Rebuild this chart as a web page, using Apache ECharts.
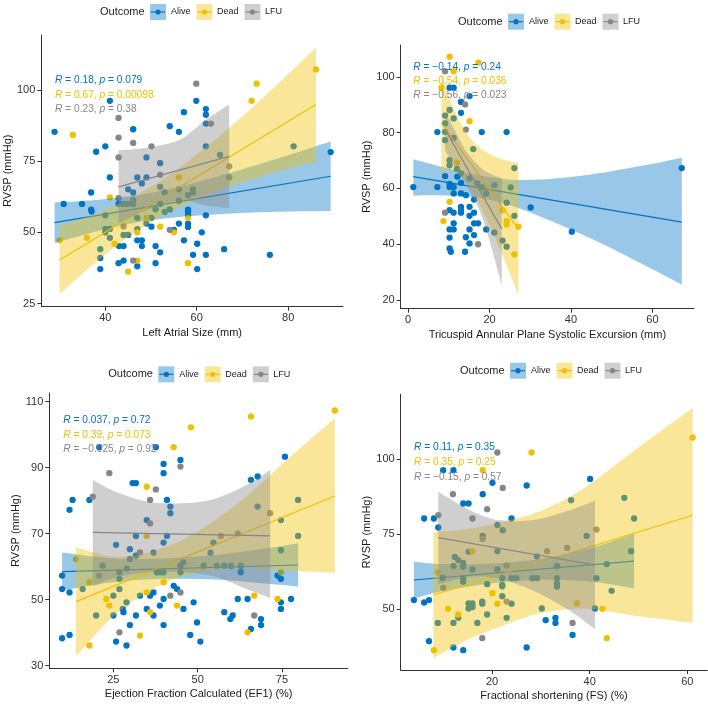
<!DOCTYPE html>
<html><head><meta charset="utf-8">
<script src="https://cdn.jsdelivr.net/npm/echarts@6/dist/echarts.min.js"></script>
<style>html,body{margin:0;padding:0;background:#fff}#c{width:708px;height:706px}</style>
</head><body><div id="c"></div>
<script>
const FONT = "'Liberation Sans', Arial, sans-serif";
const groups = ['Alive','Dead','LFU'];
const COLORS = {Alive:'#0073C2', Dead:'#EFC000', LFU:'#868686'};

// ---------- Panel 1: Left Atrial Size ----------
const p1Alive = [[28.9,85.3],[30.9,60],[34.9,60],[36.9,64],[36.9,58],[37,57.3],[38,78.3],[40,80.2],[41,96.2],[41,69.3],[38.9,37.1],[42.9,39.2],[44,40.1],[46.1,86.2],[47,69.3],[49,69.3],[49,76.3],[48,67.2],[45,65.1],[46.1,64],[52,74.3],[54.1,87.3],[56.1,85.3],[57.2,92.2],[59.9,96.2],[62,93.3],[62,91.3],[62,88.2],[89.3,78.2],[76,42.1],[43,45.2],[44,45.2],[47,47.2],[48,47.2],[48,45.2],[47,38.1],[51,45.2],[52,43],[51,39.2],[50.1,52],[55,50.9],[56.1,53.1],[57.2,47.2],[58.1,58],[58.1,57.2],[58.1,56],[58.1,53.1],[58.1,51.9],[59.2,42.1],[60.1,46],[60.1,37.1],[61.1,50],[62,42.1],[62,56],[66,44.1],[40,56],[40,51.2],[40,50],[38.9,44.1],[38.9,41],[41,51.2],[41,48.1],[42.9,60],[44,60],[45,60],[46.1,60],[46.1,61.3],[47,55.1],[47,51.1],[45,49.1],[44,49.1],[49,53.1],[50.1,55.1],[51,58.1],[52,66],[53,64],[56.1,65.1],[56.1,61.1],[53,57.2],[54.1,58.1],[58.1,63.1],[59.2,65.1],[59.2,64],[62,80.2],[65.1,77.2],[81.2,80.2],[52,60]];
const p1Dead = [[32.9,84.2],[41,62.3],[36,48.1],[30,47.2],[42,46],[45,36.2],[47,40.1],[47,50],[49,55.1],[52,52],[55,50],[58.1,55.1],[58.1,39.2],[56.1,69.3],[72,96.2],[73.1,102.2],[86.1,107.2]];
const p1LFU = [[59.9,102.2],[42.9,90.2],[42.9,83.3],[46.1,81.4],[50.1,80.2],[42.9,76.3],[63.1,88.2],[42.9,62],[44,52.1],[46.1,40.1],[54.1,50.9],[67.1,73.2],[67.1,69.3],[52,70.2]];
const p1AliveLine = [[28.9,53.4],[89.3,69.7]];
const p1DeadLine = [[30,40.3],[86.1,94.9]];
const p1LFULine = [[42.9,66.0],[67.1,76.7]];
const p1AliveBand = [[28.9,46.3,60.5],[35,49.0,61.0],[40,51.1,61.7],[48,53.8,63.3],[55,55.2,65.6],[62,56.1,68.5],[70,56.8,72.2],[80,57.3,77.1],[89.3,57.5,81.9]];
const p1DeadBand = [[30,28.3,52.3],[38,39.6,56.6],[46,49.4,62.4],[54,57.1,70.1],[62,62.9,79.9],[70,67.7,90.7],[78,71.5,102.5],[86.1,74.9,114.9]];
const p1LFUBand = [[42.9,53.2,78.8],[44.6,54.6,79.0],[49.7,58.1,79.9],[56.3,61.3,82.5],[62.1,59.4,89.6],[67.1,58.5,94.9]];

// ---------- Panel 2: TAPSE ----------
const p2Alive = [[1.3,60.5],[7.2,60.5],[7.2,80.2],[9.1,64.4],[10.2,96.1],[11.2,96.1],[10.2,61.6],[10.2,60.5],[11.2,60.5],[11.2,58.2],[10.2,52.2],[11.2,51.3],[10.2,45.3],[11.2,45.3],[11.2,47.5],[10.2,42.4],[10.2,38.5],[10.5,37.3],[13,91],[15.1,93.1],[13,87.1],[13,58.2],[13,53.4],[13,52.2],[13,51.3],[14.2,57.6],[14.2,42.5],[14,37.3],[15.1,53.4],[15.1,50.2],[15.1,45.3],[15.1,40.3],[16.2,51.3],[16.2,47.5],[17.2,47.5],[16.2,43.3],[18.1,80.2],[24.2,80.2],[19.2,45.3],[30.1,53.2],[40.2,44.5],[67.2,67.3],[9.1,86.1],[9.1,83.3],[9.1,80.3],[9.1,77.3],[10.2,88.1],[11.2,85.1],[10.2,70.1],[10.2,68.3],[11.2,78.1],[12,67],[13,65.4],[13,62],[12.1,64.2],[15.1,63.6],[16,74.1],[17,61.8],[18.1,60.4],[19.2,58.2],[21.2,61.2],[21.2,44.2],[23.2,41.3],[24.2,54.9],[24.2,39.1],[25.2,60.4],[26.1,67.3],[26.1,50.2],[16.2,56]];
const p2Dead = [[10.2,107.2],[11.2,102],[17.3,105.1],[8.2,96.1],[15.1,84.1],[10.2,55.2],[8.7,48.3],[24.2,48.3],[24.2,47.1],[27.1,46.3],[26.1,36.4],[23.2,52.2],[12,69.3]];
const p2LFU = [[9.1,102],[14,90.1],[9.1,51.3],[17.2,40],[14.2,81.1]];
const p2AliveLine = [[1.3,64.2],[67.2,47.9]];
const p2DeadLine = [[8.2,83.3],[27.1,45.5]];
const p2LFULine = [[9.1,81.1],[23,45.5]];
const p2AliveBand = [[1.3,57.5,70.5],[9,57.5,67.5],[18,56.5,64.5],[27,53,63],[38,46.5,63.8],[50,38.5,66.2],[60,31,68.8],[67.2,25.5,71]];
const p2DeadBand = [[8.2,64.8,101.8],[10.3,66.6,91.6],[14.4,62.1,79.7],[18.5,51.5,73.7],[22.6,38.1,70.7],[27.1,21.8,69]];
const p2LFUBand = [[9.1,73.7,87.5],[11.9,66.5,79.7],[14.4,61,73.1],[18.5,48.5,66.6],[23,25.4,63.6]];

// ---------- Panel 3: EF1 ----------
const p3Alive = [[9.8,57.3],[9.8,53.2],[9.8,38.3],[12,77.2],[12.9,80.2],[12,52.2],[12,39.3],[17.9,80.2],[30.7,85.3],[31.7,85.3],[31.7,69.3],[34.9,74.1],[20.8,96.2],[37.6,96.2],[39.9,91.1],[39.9,88.3],[44.9,92.3],[40.9,80.2],[41.9,78.2],[41.9,76.2],[65.8,86.3],[67.8,87.3],[75.9,93.3],[73.7,57.3],[74.7,56.3],[74.7,47.2],[74.7,49.2],[77.7,50.2],[25.8,37.3],[28.9,36.1],[29.9,42.3],[31.7,45.2],[34.9,47.2],[36.9,45.2],[38.8,48.2],[39.9,50.2],[39.9,42.3],[45.8,47.2],[48.8,49.2],[49.8,43.1],[47.8,39.3],[50.8,37.3],[57.9,46.2],[59.7,44.1],[60.4,45.2],[61.9,50.2],[64.8,50.2],[65.8,41.1],[68.8,44.1],[68.8,42.3],[15.9,53.2],[19.9,45.2],[21.8,60.3],[25,51.2],[25,45.2],[26.8,58.3],[26.8,56.3],[25.8,66.6],[27.8,47.2],[28.9,49.2],[29.9,65.3],[29.9,62.3],[31.7,63.3],[32.9,51.2],[35.9,51.2],[36.9,64.2],[36.9,52.2],[38.8,58.3],[39.9,58.3],[39.9,67.3],[40.9,69.3],[42.9,54.2],[43.9,53.2],[44.9,60.3],[44.9,58.3],[45.8,61.3],[53.8,64.2],[54.7,67.3],[51.8,60.3],[55.7,60.3],[57.9,60.3],[59.9,60.3],[62.8,58.3],[62.8,60.3],[67.8,78.2],[74.7,74.1],[74.7,65],[79.8,80.2],[79.8,69.3],[26.8,53.2],[29,59.4],[28,46.2],[37.9,58.3]];
const p3Dead = [[48,102.2],[65.8,105.5],[90.7,107.3],[42.9,96.2],[34.9,84.2],[34.9,69.3],[17.9,55.3],[13.9,62.3],[39.9,55.3],[22.9,50.2],[23.8,48.2],[34.9,52.2],[35.9,46.2],[43.9,48.2],[32.9,39.1],[17.9,36.1],[64.8,40.1],[66.8,51.2],[73.7,50.2],[74.7,58.3]];
const p3LFU = [[23.8,88.3],[18.9,81.2],[44.9,90.3],[37.6,83.4],[35.9,80.2],[35.9,73.1],[20.8,57.3],[26.8,40.1],[41.9,51.2],[44.9,52.2],[66.8,45.2],[71.5,76.2],[56.9,69.3],[61.9,70.1],[32.9,64.3]];
const p3AliveLine = [[9.8,58.5],[79.8,60.5]];
const p3DeadLine = [[13.9,49.4],[90.7,81.4]];
const p3LFULine = [[18.9,70.4],[71.5,69.3]];
const p3AliveBand = [[9.8,52.8,64.3],[25,55.3,62.5],[40,56.3,62.5],[55,56.1,63.5],[70,54.9,65.5],[79.8,54,67.1]];
const p3DeadBand = [[13.9,32.9,65.9],[25,45,63],[35,52.2,64.2],[45,56.9,67.9],[55,59,74],[65,59.7,81.7],[75,58.9,91],[90.7,58.1,105]];
const p3LFUBand = [[18.9,54,86.3],[25,56.5,83],[35,58.3,79.7],[45,58.3,79.2],[55,57,80.5],[65,53,85],[71.5,50.5,89.3]];

// ---------- Panel 4: FS ----------
const p4Alive = [[4,52.9],[6.1,52.1],[7.1,52.9],[7.1,39.2],[6.1,80.1],[8.1,80.1],[9,77.1],[10,96.2],[12.1,96.2],[14.1,85.1],[15.2,85.1],[12.1,37.1],[14.1,36.2],[18.1,88.2],[20.1,92],[21.1,77.9],[22.2,76.2],[24,80.1],[23,47],[27.1,91.1],[27.1,37.1],[30.2,50.1],[31,46.2],[33,47],[33,45.3],[36.2,86.2],[36.5,41.3],[40.1,93.3],[41.1,50.1],[9.9,60.3],[8.9,45.3],[12.1,64.3],[12.1,45.3],[12.4,67.3],[13.1,66.2],[14.1,65.3],[14.1,64],[14.1,60.2],[14.1,59],[13.1,47],[15.2,50.1],[15.2,51.8],[16,51.8],[16,50.6],[15.2,69],[16,63.1],[17,45.3],[18.1,74.3],[18,52.4],[18,51.7],[19,48.1],[19,58.2],[21.1,69.2],[21.1,63.1],[22.1,60.2],[22.1,58],[22.1,57.5],[22.1,54.2],[24,60.2],[24,51.7],[25,60.2],[28.3,60.2],[29.2,60.2],[29.2,67.5],[33.3,64.3],[33.3,60.2],[33.3,58.5],[33.3,57.4],[39.4,74.3],[41.4,60.2],[43.5,64.9],[44.5,56],[47.1,87],[48.5,69.2],[49.1,80.1]];
const p4Dead = [[28.1,102.1],[18.1,96.2],[16,69.2],[20.1,55.2],[11,50],[13.1,48.1],[8.1,36.2],[37.4,51.8],[42.6,50],[43.5,40.2],[61.1,107.1],[8.9,62.1],[21.1,51.7]];
const p4LFU = [[21.1,102.1],[22.2,90.3],[12,88.2],[19,83.2],[9,81.2],[16,80.1],[18,40.2],[36.5,45.3],[18.1,73.3],[10,57],[23,64.4],[23,52.4],[31.3,69.2],[35.4,70.3],[41.4,76.4]];
const p4AliveLine = [[4,59.6],[49.1,65.9]];
const p4DeadLine = [[8,54.6],[61.1,81.2]];
const p4LFULine = [[9,73.7],[41.1,64.6]];
const p4AliveBand = [[4,53.4,65.7],[10,55.9,64.9],[20,58.5,65.1],[30,59.7,66.7],[40,59.1,70.1],[49.1,56.8,75.1]];
const p4DeadBand = [[8,33.6,75.6],[14.8,39.5,76.5],[21.6,44,78.8],[29.8,48.5,82.5],[38.7,50,90],[48.9,47.8,102.4],[61.1,45.4,117]];
const p4LFUBand = [[9,58.2,89],[12.8,59.8,85.3],[16.9,60.8,81.8],[21.6,60,79.5],[28.5,56,79.6],[35.3,50,82.5],[41.1,43.2,86]];

// ---------- axis ticks & labels ----------
const xTitles = ['Left Atrial Size (mm)','Tricuspid Annular Plane Systolic Excursion (mm)','Ejection Fraction Calculated (EF1) (%)','Fractional shortening (FS) (%)'];
const yTitle = 'RVSP (mmHg)';
const xTicks = [[40,60,80],[0,20,40,60],[25,50,75],[20,40,60]];
const yTicks = [[25,50,75,100],[20,40,60,80,100],[30,50,70,90,110],[50,75,100]];
const xRanges = [[26.0,92.0],[-1.8,70.2],[6.0,94.6],[1.3,64.1]];
const yRanges = [[23.9,119.3],[16.9,111.4],[29.2,112.6],[29.6,121.5]];
const statTexts = [
  ['0.18','0.079','0.67','0.00098','0.23','0.38'],
  ['\u22120.14','0.24','\u22120.54','0.036','\u22120.56','0.023'],
  ['0.037','0.72','0.39','0.073','\u22120.025','0.92'],
  ['0.11','0.35','0.35','0.25','\u22120.15','0.57']
];

// ---------- layout ----------
const grids = [
  {left:41.3, top:35, width:301.7, height:271.7},
  {left:400.7, top:45, width:293.3, height:263.7},
  {left:49.3, top:393, width:298.7, height:275.3},
  {left:400.7, top:394.3, width:306.6, height:275.7}
];
const legendPos = [[100,12],[458,21.7],[108.3,374.3],[460,370.7]];
const statPos = [[55,80,14.8],[413.3,66.7,14.2],[63.3,420,14.7],[414,447.3,14.9]];

const panels = [
  {pts:[p1Alive,p1Dead,p1LFU], lines:[p1AliveLine,p1DeadLine,p1LFULine], bands:[p1AliveBand,p1DeadBand,p1LFUBand]},
  {pts:[p2Alive,p2Dead,p2LFU], lines:[p2AliveLine,p2DeadLine,p2LFULine], bands:[p2AliveBand,p2DeadBand,p2LFUBand]},
  {pts:[p3Alive,p3Dead,p3LFU], lines:[p3AliveLine,p3DeadLine,p3LFULine], bands:[p3AliveBand,p3DeadBand,p3LFUBand]},
  {pts:[p4Alive,p4Dead,p4LFU], lines:[p4AliveLine,p4DeadLine,p4LFULine], bands:[p4AliveBand,p4DeadBand,p4LFUBand]}
];

// smooth curve through pixel points (Catmull-Rom as cubic Bezier)
function curveSegs(pts){
  let s = '';
  for (let i = 0; i < pts.length - 1; i++) {
    const p0 = pts[Math.max(0, i - 1)], p1 = pts[i], p2 = pts[i + 1], p3 = pts[Math.min(pts.length - 1, i + 2)];
    const t = 1 / 6;
    const c1x = p1[0] + (p2[0] - p0[0]) * t, c1y = p1[1] + (p2[1] - p0[1]) * t;
    const c2x = p2[0] - (p3[0] - p1[0]) * t, c2y = p2[1] - (p3[1] - p1[1]) * t;
    s += ' C' + c1x + ',' + c1y + ' ' + c2x + ',' + c2y + ' ' + p2[0] + ',' + p2[1];
  }
  return s;
}
function bandSeries(pi, band, color, z){
  return {
    type:'custom', xAxisIndex:pi, yAxisIndex:pi, data:band, z:z, silent:true, clip:true,
    encode:{x:0, y:[1,2]},
    renderItem:function(params, api){
      if (params.dataIndex !== 0) return null;
      const up = band.map(d => api.coord([d[0], d[2]]));
      const lo = band.map(d => api.coord([d[0], d[1]])).reverse();
      const path = 'M' + up[0][0] + ',' + up[0][1] + curveSegs(up) +
                   ' L' + lo[0][0] + ',' + lo[0][1] + curveSegs(lo) + ' Z';
      return {type:'path', shape:{pathData:path}, style:{fill:color, opacity:0.4, stroke:null}};
    }
  };
}

const axisCommon = {
  type:'value', nameLocation:'middle',
  nameTextStyle:{fontSize:11, color:'#1a1a1a', fontFamily:FONT},
  axisLine:{show:true, onZero:false, lineStyle:{color:'#333', width:1}},
  splitLine:{show:false}
};

const xAxes = [], yAxes = [], series = [], graphic = [];
panels.forEach((P, pi) => {
  xAxes.push(Object.assign({}, axisCommon, {
    gridIndex:pi, min:xRanges[pi][0], max:xRanges[pi][1], name:xTitles[pi], nameGap:20.5,
    axisTick:{show:true, length:4, customValues:xTicks[pi], lineStyle:{color:'#333'}},
    axisLabel:{customValues:xTicks[pi], margin:6, fontSize:11, color:'#333', fontFamily:FONT}
  }));
  yAxes.push(Object.assign({}, axisCommon, {
    gridIndex:pi, min:yRanges[pi][0], max:yRanges[pi][1], name:yTitle, nameGap:23.5,
    axisTick:{show:true, length:4, customValues:yTicks[pi], lineStyle:{color:'#333'}},
    axisLabel:{customValues:yTicks[pi], margin:6, fontSize:11, color:'#333', fontFamily:FONT}
  }));
  groups.forEach((g, k) => {
    series.push({type:'scatter', xAxisIndex:pi, yAxisIndex:pi, data:P.pts[k], symbol:'circle', symbolSize:6.3,
      itemStyle:{color:COLORS[g], opacity:1}, z:2, silent:true});
  });
  groups.forEach((g, k) => {
    series.push(bandSeries(pi, P.bands[k], COLORS[g], 3 + 2 * k));
    series.push({type:'line', xAxisIndex:pi, yAxisIndex:pi, data:P.lines[k], symbol:'none',
      lineStyle:{color:COLORS[g], width:1.2}, z:4 + 2 * k, silent:true});
  });

  // legend
  const [L, cy] = legendPos[pi];
  graphic.push({type:'text', x:L, y:cy, z:100, style:{text:'Outcome', fontSize:11, fontFamily:FONT, fill:'#222', verticalAlign:'middle', align:'left'}});
  const boxOff = [50, 96.5, 144.5], labOff = [71, 117, 165];
  groups.forEach((g, k) => {
    const bx = L + boxOff[k];
    graphic.push({type:'rect', z:100, shape:{x:bx, y:cy - 8, width:16, height:16}, style:{fill:COLORS[g], opacity:0.4}});
    graphic.push({type:'line', z:101, shape:{x1:bx + 1, y1:cy, x2:bx + 15, y2:cy}, style:{stroke:COLORS[g], lineWidth:1.2}});
    graphic.push({type:'circle', z:102, shape:{cx:bx + 8, cy:cy, r:2.6}, style:{fill:COLORS[g]}});
    graphic.push({type:'text', z:100, x:L + labOff[k], y:cy, style:{text:g, fontSize:9, fontFamily:FONT, fill:'#222', verticalAlign:'middle', align:'left'}});
  });

  // stat annotations
  const [sx, sy, dy] = statPos[pi];
  groups.forEach((g, k) => {
    const r = statTexts[pi][2 * k], p = statTexts[pi][2 * k + 1];
    graphic.push({type:'text', z:110, x:sx, y:sy + dy * k, style:{
      text:'{i|R} = ' + r + ', {i|p} = ' + p,
      fontSize:10.2, fontFamily:FONT, fill:COLORS[g], verticalAlign:'middle', align:'left',
      rich:{i:{fontStyle:'italic', fontSize:10.2, fontFamily:FONT, fill:COLORS[g]}}
    }});
  });
});

const chart = echarts.init(document.getElementById('c'), null, {renderer:'canvas'});
chart.setOption({
  backgroundColor:'#fff',
  animation:false,
  grid: grids.map(g => Object.assign({outerBoundsMode:'none', containLabel:false}, g)),
  xAxis: xAxes,
  yAxis: yAxes,
  series: series,
  graphic: graphic
});
</script>
</body></html>
